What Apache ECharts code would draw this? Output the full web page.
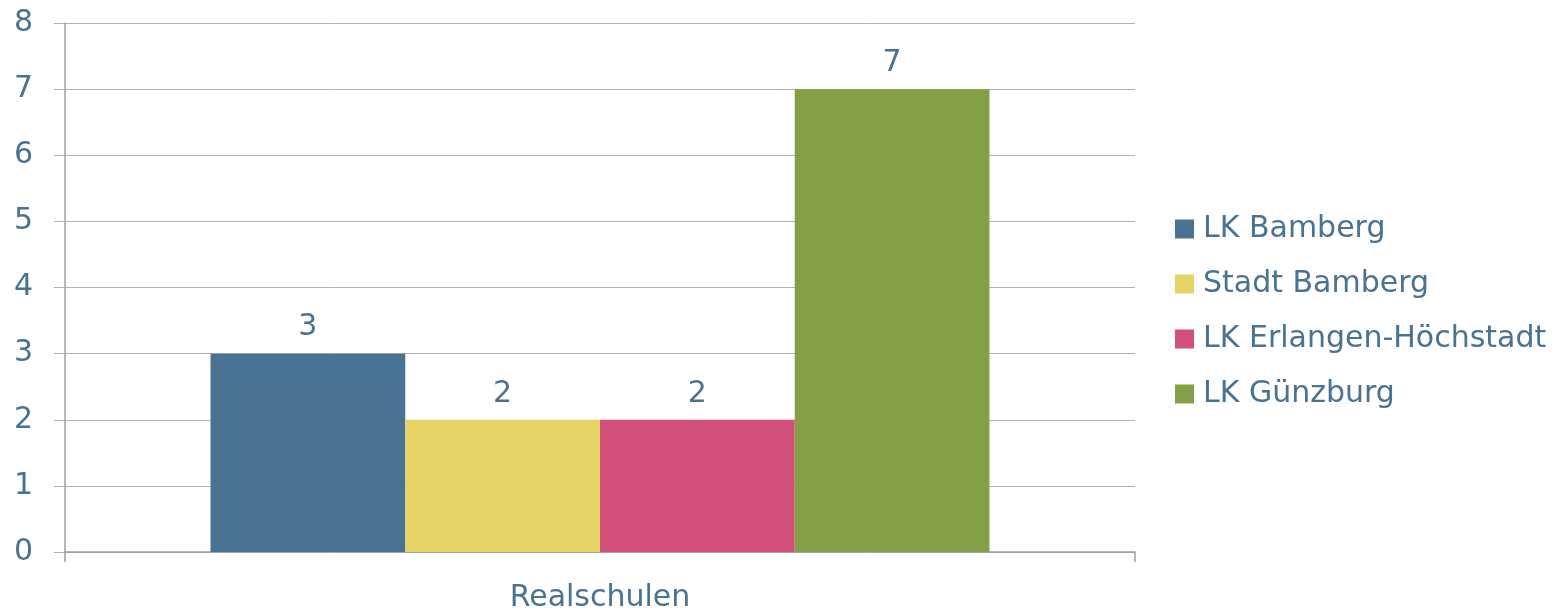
<!DOCTYPE html>
<html>
<head>
<meta charset="utf-8">
<script src="https://cdn.jsdelivr.net/npm/echarts@6/dist/echarts.min.js"></script>
<style>
  html, body { margin: 0; padding: 0; background: #fff; }
  #chart { width: 1562px; height: 611px; }
</style>
</head>
<body>
<div id="chart"></div>
<script>
const categories = ['Realschulen'];
const seriesNames = ['LK Bamberg', 'Stadt Bamberg', 'LK Erlangen-Höchstadt', 'LK Günzburg'];
const seriesValues = [[3], [2], [2], [7]];
const colors = ['#4a7292', '#e6d366', '#d2507a', '#83a047'];

const TEXT = '#4a7291';
const FONT = 'DejaVu Sans';
const FS = 30;

const chart = echarts.init(document.getElementById('chart'), null, { renderer: 'canvas' });

const series = seriesNames.map((name, i) => ({
    type: 'bar',
    name: name,
    data: seriesValues[i],
    barGap: '0%',
    barCategoryGap: '27.2%',
    itemStyle: { color: colors[i] },
    label: {
        show: true,
        position: 'top',
        distance: 11,
        color: TEXT,
        fontFamily: FONT,
        fontSize: FS,
    },
}));

chart.setOption({
    animation: false,
    backgroundColor: '#fff',
    textStyle: { fontFamily: FONT },
    grid: { left: 65, right: 427, top: 23, bottom: 59, containLabel: false, outerBoundsMode: 'none' },
    legend: {
        orient: 'vertical',
        left: 1175,
        top: 214,
        padding: 0,
        itemWidth: 19,
        itemHeight: 19,
        itemGap: 25,
        icon: 'rect',
        textStyle: { color: TEXT, fontFamily: FONT, fontSize: FS, lineHeight: 30, padding: [0, 0, 0, 4] },
        data: seriesNames,
    },
    xAxis: {
        type: 'category',
        data: categories,
        axisLine: { lineStyle: { color: '#a0a0a0', width: 1.5 } },
        axisTick: { show: true, length: 10, lineStyle: { color: '#a0a0a0', width: 1.5 } },
        axisLabel: { color: TEXT, fontFamily: FONT, fontSize: FS, margin: 31 },
    },
    yAxis: {
        type: 'value',
        min: 0,
        max: 8,
        interval: 1,
        axisLine: { show: true, lineStyle: { color: '#a0a0a0', width: 1.5 } },
        axisTick: { show: true, length: 11, lineStyle: { color: '#b0b0b0' } },
        splitLine: { lineStyle: { color: '#b0b0b0', width: 1 } },
        axisLabel: { color: TEXT, fontFamily: FONT, fontSize: FS, margin: 32 },
    },
    series: series,
});
</script>
</body>
</html>
